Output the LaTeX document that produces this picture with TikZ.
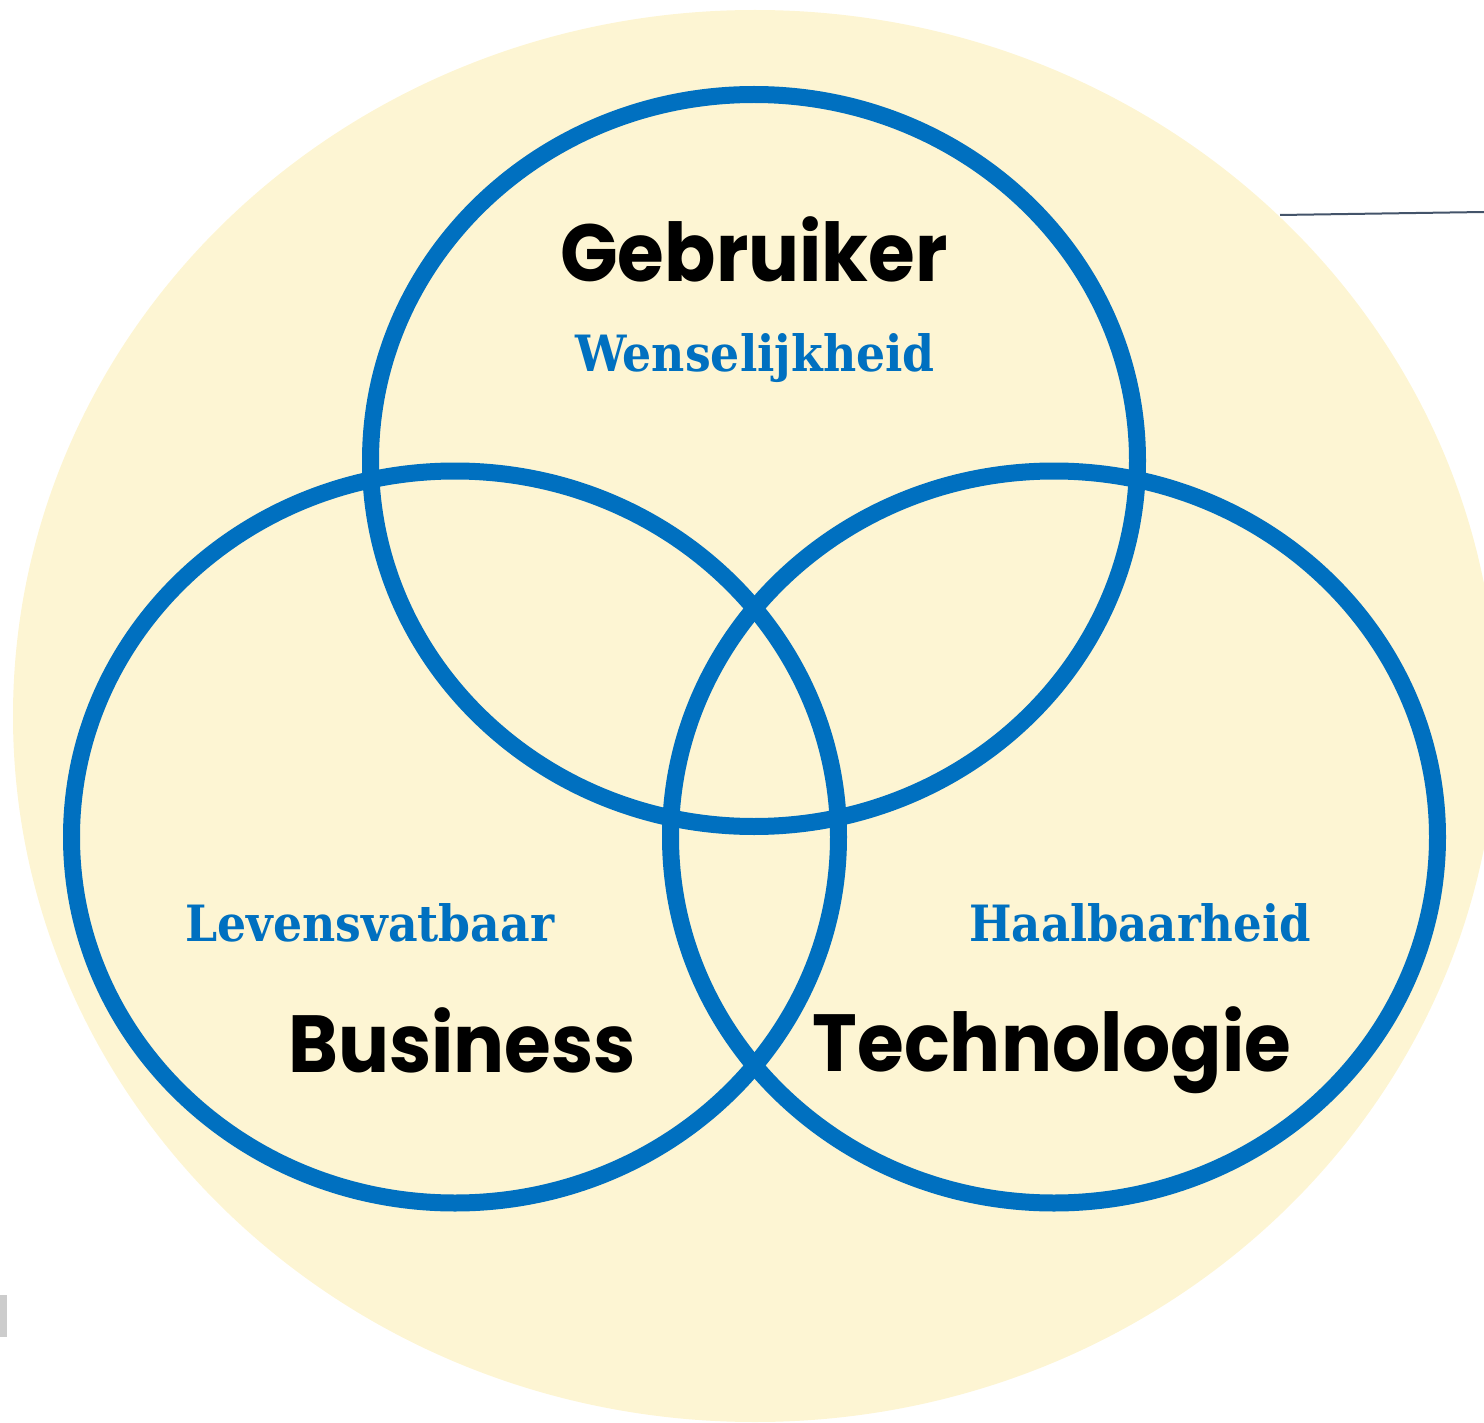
\documentclass[tikz,border=0pt]{standalone}
\usepackage{fontspec}
\setmainfont{Poppins}
\newfontfamily\slabfont{DejaVu Serif}
\definecolor{bgyellow}{RGB}{253,245,211}
\definecolor{vennblue}{RGB}{0,112,192}
\definecolor{slateline}{RGB}{68,84,106}
\definecolor{markgray}{RGB}{204,204,204}
\newcommand{\mainlbl}[1]{\scalebox{0.935}[1]{#1}}
\newcommand{\sublbl}[1]{\scalebox{0.915}[1]{#1}}
\begin{document}
\begin{tikzpicture}[x=1pt,y=-1pt,
  ring/.style={draw=vennblue,line width=17pt},
  mainlabel/.style={anchor=base,inner sep=0pt,font=\fontsize{81}{90}\selectfont\bfseries,text=black},
  sublabel/.style={anchor=base,inner sep=0pt,font=\fontsize{50}{60}\selectfont\slabfont\bfseries,text=vennblue}]
\useasboundingbox (0,0) rectangle (1484,1423);
\clip (0,0) rectangle (1484,1423);
\fill[bgyellow] (755,716) ellipse [x radius=742, y radius=706];
\draw[ring] (754,460.5) ellipse [x radius=383.5, y radius=366];
\draw[ring] (455,837) ellipse [x radius=383.5, y radius=366];
\draw[ring] (1054,837) ellipse [x radius=383.5, y radius=366];
\node[mainlabel] (gebr) at (754,282) {\mainlbl{Gebruiker}};
\node[sublabel] (wens) at (755,371) {\sublbl{Wenselijkheid}};
\node[sublabel] (lev) at (370,941) {\sublbl{Levensvatbaar}};
\node[mainlabel] (bus) at (462,1072) {\mainlbl{Business}};
\node[sublabel] (haal) at (1140,941) {\scalebox{0.9}[1]{Haalbaarheid}};
\node[mainlabel] (tech) at (1052,1071) {\mainlbl{Technologie}};
\coordinate (lineA) at (1280,215);
\coordinate (lineB) at (1484,212);
\draw[slateline,line width=2pt] (lineA) -- (lineB);
\fill[markgray] (0,1295) rectangle (7,1337);
\end{tikzpicture}
\end{document}
